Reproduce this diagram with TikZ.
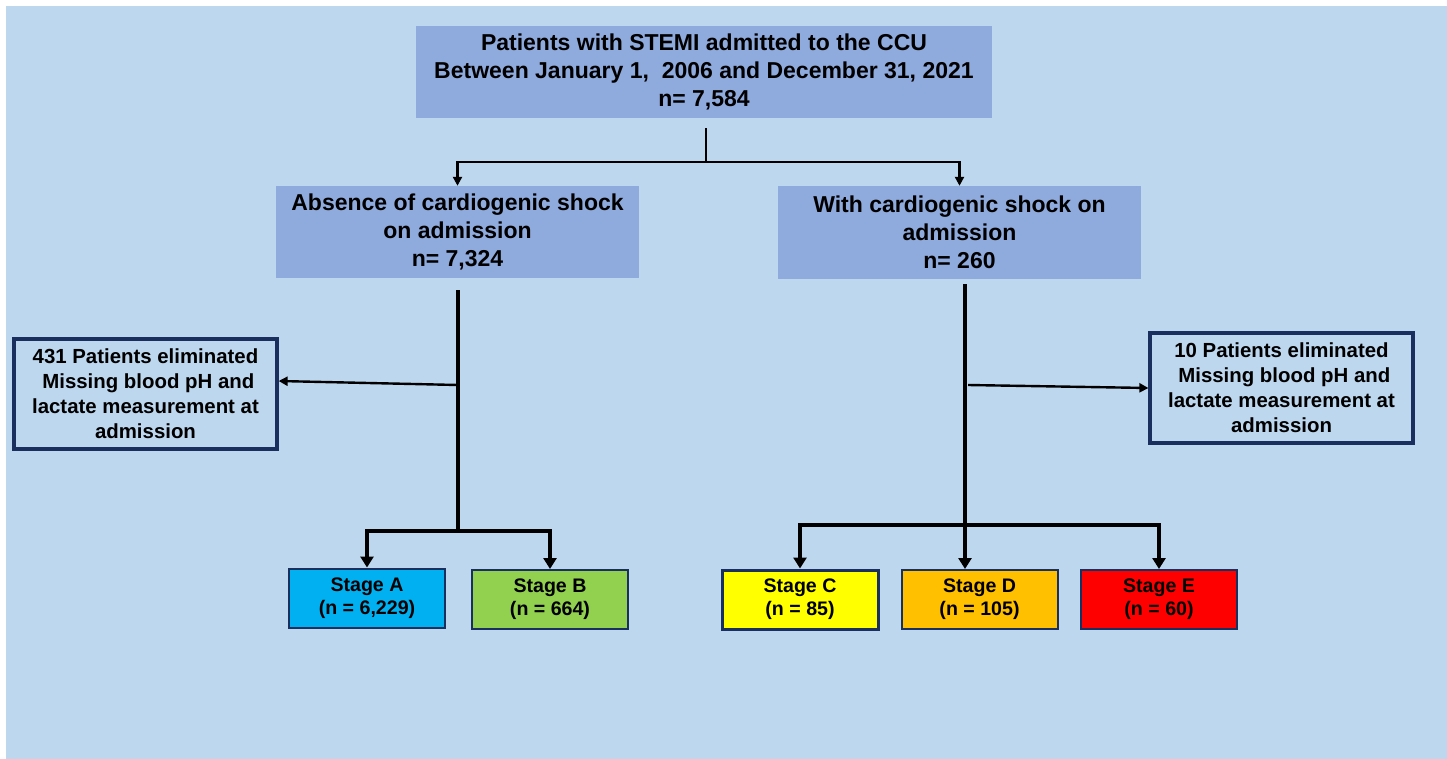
\documentclass[tikz,border=0pt]{standalone}
\usepackage{fontspec}
\setmainfont{Liberation Sans}
\usetikzlibrary{arrows.meta}
\definecolor{bgc}{HTML}{BDD7EE}
\definecolor{boxc}{HTML}{8FAADC}
\definecolor{navyc}{HTML}{1A2F5E}
\definecolor{stA}{HTML}{00B0F0}
\definecolor{stB}{HTML}{92D050}
\definecolor{stC}{HTML}{FFFF00}
\definecolor{stD}{HTML}{FFC000}
\definecolor{stE}{HTML}{FF0000}
\tikzset{
  bigbox/.style={fill=boxc, draw=none, inner sep=0pt, align=center,
    font=\fontsize{23}{28}\selectfont\bfseries},
  elimbox/.style={fill=bgc, draw=navyc, line width=3.2pt, inner sep=0pt, align=center,
    minimum width=263pt, minimum height=110pt,
    font=\fontsize{20.4}{25}\selectfont\bfseries},
  stagebox/.style={draw=navyc, line width=2pt, inner sep=0pt, align=center,
    minimum width=156pt, minimum height=59pt,
    font=\fontsize{19.6}{23}\selectfont\bfseries},
  conn/.style={line width=3.6pt, black},
  thin conn/.style={line width=2.8pt, black},
  tip/.style={-{Triangle[width=13pt,length=11pt]}},
  smalltip/.style={-{Triangle[width=9pt,length=9pt]}}
}
\begin{document}
\begin{tikzpicture}[x=1pt,y=-1pt]
\useasboundingbox (0,0) rectangle (1447,759);
\fill[white] (0,0) rectangle (1447,759);
\fill[bgc] (6,6) rectangle (1447,759);

\node[bigbox, minimum width=576pt, minimum height=92pt] (top) at (704,72)
  {Patients with STEMI admitted to the CCU\\Between January 1,\ \ 2006 and December 31, 2021\\n= 7,584};
\node[bigbox, minimum width=363pt, minimum height=92pt] (absent) at (457.5,232)
  {Absence of cardiogenic shock\\on admission\\n= 7,324};
\node[bigbox, minimum width=363pt, minimum height=93pt] (with) at (959.5,232.5)
  {With cardiogenic shock on\\admission\\n= 260};

\node[elimbox] (elimL) at (145.5,394)
  {431 Patients eliminated\\\ Missing blood pH and\\lactate measurement at\\admission};
\node[elimbox] (elimR) at (1281.5,388)
  {10 Patients eliminated\\\ Missing blood pH and\\lactate measurement at\\admission};

\node[stagebox, fill=stA] (A) at (367,598) {Stage A\\(n = 6,229)};
\node[stagebox, fill=stB] (B) at (550,599.5) {Stage B\\(n = 664)};
\node[stagebox, fill=stC, line width=3pt] (C) at (800,599.5) {Stage C\\(n = 85)};
\node[stagebox, fill=stD] (D) at (979.5,599.5) {Stage D\\(n = 105)};
\node[stagebox, fill=stE] (E) at (1159,599.5) {Stage E\\(n = 60)};

% top split
\coordinate (jt) at (706,162);
\draw[thin conn] ([yshift=-10pt]top.south -| jt) -- (jt);
\draw[thin conn, smalltip] (jt) -| (absent.north);
\draw[thin conn, smalltip] (jt) -| (with.north);

% left branch
\coordinate (jl) at (458,531);
\coordinate (el) at (458,385);
\draw[conn] ([yshift=-12pt]absent.south -| jl) -- (jl);
\draw[line width=2.4pt, smalltip] (el) -- ([yshift=13pt]elimL.east);
\draw[conn, tip] (jl) -| (A.north);
\draw[conn, tip] (jl) -| (B.north);

% right branch
\coordinate (jr) at (965,525);
\coordinate (er) at (968,385);
\draw[conn] ([yshift=-5pt]with.south -| jr) -- (jr);
\draw[line width=2.4pt, smalltip] (er) -- (elimR.west);
\draw[conn, tip] (jr) -| (C.north);
\draw[conn, tip] (jr) -- (jr |- D.north);
\draw[conn, tip] (jr) -| (E.north);
\end{tikzpicture}
\end{document}
